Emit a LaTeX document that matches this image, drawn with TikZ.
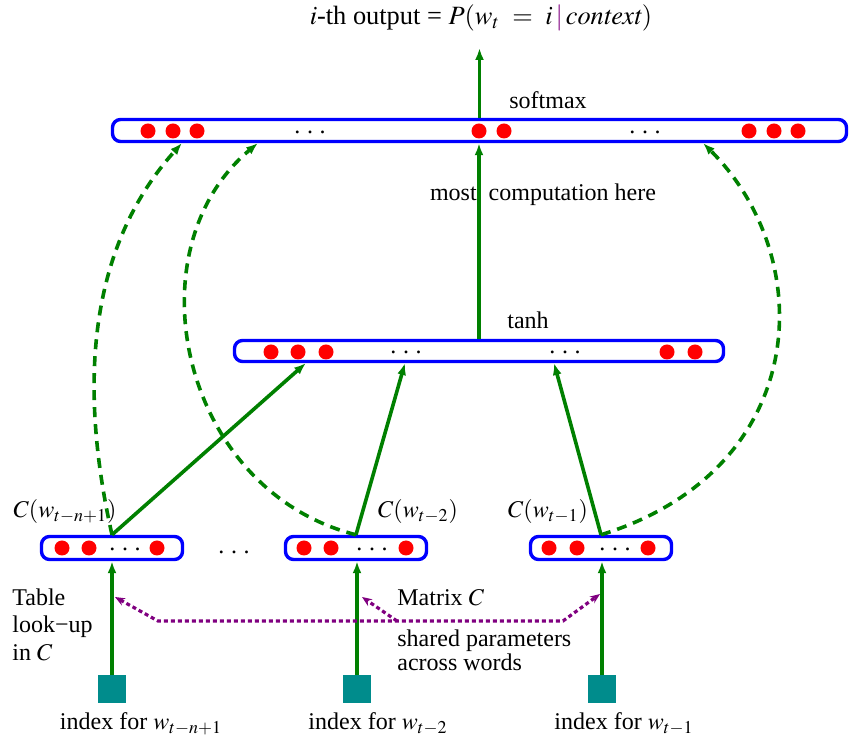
\documentclass[tikz,border=0pt]{standalone}
\usepackage{mathptmx}
\usepackage{fontspec}
\setmainfont{Liberation Serif}
\usetikzlibrary{arrows.meta}
\definecolor{lgreen}{RGB}{0,128,0}
\definecolor{lteal}{RGB}{0,140,140}
\definecolor{lpurple}{RGB}{128,0,128}
\newcommand\mydots{.\hspace{3.3pt}.\hspace{3.3pt}.}
\begin{document}
\begin{tikzpicture}[x=0.5pt,y=-0.5pt,
  every node/.style={font=\fontsize{12}{14}\selectfont},
  layer/.style={draw=blue, line width=1.7pt, rounded corners=4pt, inner sep=0pt, fill=white},
  neuron/.style={circle, fill=red, inner sep=0pt, minimum size=7.5pt},
  conn/.style={draw=lgreen, line width=1.8pt, -{Latex[length=6pt,width=4.5pt]}},
  dconn/.style={conn, dash pattern=on 5pt off 3.5pt},
  share/.style={draw=lpurple, line width=1.6pt, dash pattern=on 2pt off 1.5pt},
  idx/.style={fill=lteal, minimum width=14pt, minimum height=14pt, inner sep=0pt},
  lbl/.style={anchor=base, inner sep=0pt},
  lblw/.style={anchor=base west, inner sep=0pt}
]
\useasboundingbox (0,0) rectangle (862,747);

% layers
\node[layer, minimum width=367pt, minimum height=11pt] (soft) at (479.5,130.5) {};
\node[layer, minimum width=244.5pt, minimum height=10.5pt] (tanh) at (479,351) {};
\node[layer, minimum width=70.5pt, minimum height=11.5pt] (c1) at (112,548) {};
\node[layer, minimum width=70.5pt, minimum height=11.5pt] (c2) at (356,548) {};
\node[layer, minimum width=70.5pt, minimum height=11.5pt] (c3) at (601,548) {};

% neurons
\foreach \x [count=\i] in {148,173,197,479,504,749,774,798}
  \node[neuron] (sn\i) at (\x,131) {};
\foreach \x [count=\i] in {271,298,326,667,695}
  \node[neuron] (tn\i) at (\x,352) {};
\foreach \x [count=\i] in {62,89,157, 304,331,406, 549,577,648}
  \node[neuron] (cn\i) at (\x,548) {};

% ellipses
\node[lbl] (sd1) at (310,133.5) {\mydots};
\node[lbl] (sd2) at (645,133.5) {\mydots};
\node[lbl] (td1) at (406,353.5) {\mydots};
\node[lbl] (td2) at (565,353.5) {\mydots};
\node[lbl] (cd1) at (125,550.5) {\mydots};
\node[lbl] (cd2) at (372,550.5) {\mydots};
\node[lbl] (cd3) at (615,550.5) {\mydots};
\node[lbl] (gapd) at (234,553.5) {\mydots};

% index squares
\node[idx] (q1) at (112,689) {};
\node[idx] (q2) at (357,689) {};
\node[idx] (q3) at (602,689) {};

% coordinates
\coordinate (out) at (479.5,48);
\coordinate (t1) at (306,363);
\coordinate (t2) at (405,363);
\coordinate (t3) at (554,363);
\coordinate (u1) at (182,143);
\coordinate (u2) at (258,143);
\coordinate (u3) at (703,143);
\coordinate (p1) at (115,597);
\coordinate (p2) at (158,621);
\coordinate (p3) at (563,621);
\coordinate (p4) at (600,594);
\coordinate (m1) at (397,621);
\coordinate (m2) at (362,597);

% connectors
\draw[conn] (soft.north) -- (out);
\draw[conn] (tanh.north) -- (tanh.north |- soft.south);
\draw[conn] (c1.north) -- (t1);
\draw[conn] (c2.north) -- (t2);
\draw[conn] (c3.north) -- (t3);
\draw[dconn] (c1.north) .. controls (75,370) and (95,240) .. (u1);
\draw[dconn] (c2.north) .. controls (180,490) and (130,250) .. (u2);
\draw[dconn] (c3.north) .. controls (810,470) and (820,260) .. (u3);
\draw[conn] (q1.north) -- (c1.south -| q1.north);
\draw[conn] (q2.north) -- (c2.south -| q2.north);
\draw[conn] (q3.north) -- (c3.south -| q3.north);
\draw[share, {Stealth[length=5pt,width=4pt]}-{Stealth[length=5pt,width=4pt]}] (p1) -- (p2) -- (p3) -- (p4);
\draw[share, -{Stealth[length=5pt,width=4pt]}] (m1) -- (m2);

% labels
\node[lbl, font=\fontsize{13.2}{15}\selectfont] (ltop) at (481,25) {$i$-th output = $P(w_t\ =\ i\,{\color{lpurple}|}\,\mathit{context})$};
\node[lbl] (lsoft) at (548,109) {softmax};
\node[lbl] (lmost) at (543,201) {most\ \ computation here};
\node[lbl] (ltanh) at (528,329) {tanh};
\node[lbl] (lc1) at (65,518) {$C(w_{t-n+1})$};
\node[lbl] (lc2) at (418,518) {$C(w_{t-2})$};
\node[lbl] (lc3) at (548,518) {$C(w_{t-1})$};
\node[lblw] (ltab1) at (12,606) {Table};
\node[lblw] (ltab2) at (12,633) {look−up};
\node[lblw] (ltab3) at (12,661) {in $C$};
\node[lblw] (lmat) at (397,606) {Matrix $C$};
\node[lblw] (lsh1) at (397,647) {shared parameters};
\node[lblw] (lsh2) at (397,671) {across words};
\node[lbl] (li1) at (141,730) {index for $w_{t-n+1}$};
\node[lbl] (li2) at (378,730) {index for $w_{t-2}$};
\node[lbl] (li3) at (624,730) {index for $w_{t-1}$};
\end{tikzpicture}
\end{document}
